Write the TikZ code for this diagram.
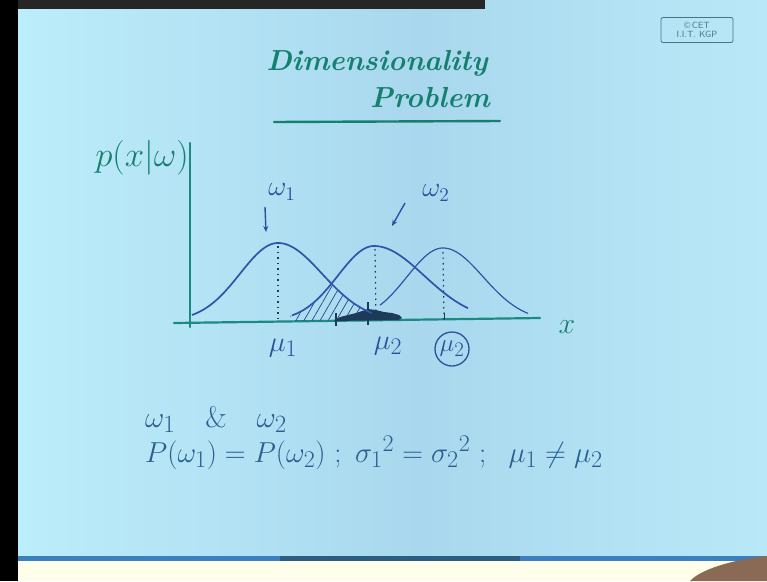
\documentclass[tikz,border=0pt]{standalone}
\usepackage{graphicx}
\usetikzlibrary{patterns.meta,arrows.meta}
\definecolor{bgA}{HTML}{BCEDFA}
\definecolor{bgB}{HTML}{A9D8EE}
\definecolor{bgC}{HTML}{B9E9F8}
\definecolor{ink}{HTML}{16806F}
\definecolor{axisc}{HTML}{1A8A82}
\definecolor{curvec}{HTML}{2F55A8}
\definecolor{lblc}{HTML}{2C4F9C}
\definecolor{textc}{HTML}{2A5F92}
\definecolor{blobc}{HTML}{1C3B58}
\definecolor{cetc}{HTML}{4A7684}
\definecolor{lineA}{HTML}{3A7FC0}
\definecolor{lineB}{HTML}{2C5C80}
\definecolor{handc}{HTML}{8A6A55}
\newcommand{\myScaleTxt}[2]{\scalebox{#1}{#2}}
\tikzset{
  titletext/.style={text=ink,font=\fontsize{29}{34}\selectfont\bfseries\itshape,inner sep=0pt,anchor=base},
  axisline/.style={draw=axisc,line width=2.2pt,line cap=round},
  curveA/.style={draw=curvec,line width=1.7pt},
  curveB/.style={draw=curvec,line width=1.2pt},
  dotline/.style={draw=blobc,line width=1.2pt,dash pattern=on 1.5pt off 4pt},
  lbl/.style={text=lblc,inner sep=0pt},
  arr/.style={draw=lblc,line width=1.4pt,-{Stealth[length=6pt,width=5pt]}},
  eqtext/.style={text=textc,inner sep=0pt,font=\fontsize{24.88}{30}\selectfont}
}
\begin{document}
\begin{tikzpicture}[x=1pt,y=-1pt]
\useasboundingbox (0,0) rectangle (767,581);
% background
\shade[left color=bgA,right color=bgB] (18,0) rectangle (420,560);
\shade[left color=bgB,right color=bgC] (420,0) rectangle (767,560);
\fill[white!92!yellow] (18,560) rectangle (767,581);
\fill[black] (0,0) rectangle (18,581);
\fill[black!85] (18,0) rectangle (485,9);
\fill[lineA] (18,556) rectangle (767,561);
\fill[lineB] (280,556) rectangle (520,561);
\fill[handc] (690,581) .. controls (700,570) and (730,560) .. (767,556) -- (767,581) -- cycle;
% CET box
\node[draw=cetc,line width=0.8pt,rounded corners=2pt,minimum width=72pt,minimum height=25pt,
      text=cetc,font=\sffamily\fontsize{9}{9.5}\selectfont,align=center,inner sep=1pt] (cet) at (697,30)
      {\textcopyright\,CET\\I.I.T. KGP};
% title
\node[titletext] (t1) at (377,70) {Dimensionality};
\node[titletext] (t2) at (430,107) {Problem};
\coordinate (ulA) at (274,122);
\coordinate (ulB) at (500,121);
\draw[draw=ink,line width=2.4pt,line cap=round] (ulA) -- (ulB);
% axes
\coordinate (yTop) at (190,143);
\coordinate (yBot) at (190,327);
\coordinate (xL) at (174,323);
\coordinate (xR) at (540,318);
\draw[axisline] (yTop) -- (yBot);
\draw[axisline] (xL) -- (xR);
\node[text=ink,inner sep=0pt,font=\fontsize{24.88}{30}\selectfont] (ylab) at (142,158) {\myScaleTxt{1.4}{$p(x|\omega)$}};
\node[text=ink,inner sep=0pt,font=\fontsize{24.88}{30}\selectfont] (xlab) at (567,327) {\myScaleTxt{1.2}{$x$}};
% hatched overlap
\path[pattern={Lines[angle=60,distance=7pt,line width=0.7pt]},pattern color=curvec!80!black]
  plot[domain=290:332,samples=30] (\x,{321-75*exp(-0.5*((\x-374)/36)^2)})
  -- plot[domain=332:366,samples=30] (\x,{321-78*exp(-0.5*((\x-278)/44)^2)})
  -- (366,320) -- (290,321) -- cycle;
% dark blob
\fill[blobc] (334,321) -- (340,317) -- (348,315) -- (356,313) -- (362,311) -- (368,309) -- (376,310)
  -- (384,312) -- (392,313) -- (399,315) -- (402,318) -- (398,320) -- cycle;
\coordinate (bk1) at (368,302);
\coordinate (bk2) at (368,325);
\draw[blobc,line width=1.5pt] (bk1) -- (bk2);
\coordinate (bk3) at (336,313);
\coordinate (bk4) at (336,326);
\draw[blobc,line width=1.5pt] (bk3) -- (bk4);
% curves
\draw[curveA] plot[domain=192:278,samples=50] (\x,{321-78*exp(-0.5*((\x-278)/38)^2)})
  -- plot[domain=278:372,samples=50] (\x,{321-78*exp(-0.5*((\x-278)/44)^2)});
\draw[curveA] plot[domain=292:374,samples=50] (\x,{321-75*exp(-0.5*((\x-374)/36)^2)})
  -- plot[domain=374:468,samples=50] (\x,{321-75*exp(-0.5*((\x-374)/50)^2)});
\draw[curveB] plot[domain=380:443,samples=50] (\x,{321-73*exp(-0.5*((\x-443)/36)^2)})
  -- plot[domain=443:528,samples=50] (\x,{321-73*exp(-0.5*((\x-443)/40)^2)});
% dotted mean lines
\coordinate (m1t) at (278,246); \coordinate (m1b) at (278,320);
\coordinate (m2t) at (375,249); \coordinate (m2b) at (376,320);
\coordinate (m3t) at (443,252); \coordinate (m3b) at (444,319);
\draw[dotline] (m1t) -- (m1b);
\draw[dotline] (m2t) -- (m2b);
\draw[dotline] (m3t) -- (m3b);
\coordinate (tk1) at (444,313); \coordinate (tk2) at (444,320);
\draw[blobc,line width=1pt] (tk1) -- (tk2);
% class labels and arrows
\node[lbl,font=\fontsize{20.74}{23}\selectfont] (w1) at (282,192) {\myScaleTxt{1.35}{$\omega_{1}$}};
\node[lbl,font=\fontsize{20.74}{23}\selectfont] (w2) at (436,193) {\myScaleTxt{1.35}{$\omega_2$}};
\coordinate (a1s) at (265,207);
\coordinate (a1e) at (266,232);
\coordinate (a2s) at (405,203);
\coordinate (a2e) at (392,226);
\draw[arr] (a1s) -- (a1e);
\draw[arr] (a2s) -- (a2e);
% mean labels
\node[lbl,font=\fontsize{24.88}{30}\selectfont] (mu1) at (283,348) {\myScaleTxt{1.15}{$\mu_1$}};
\node[lbl,font=\fontsize{24.88}{30}\selectfont] (mu2) at (388,346) {\myScaleTxt{1.15}{$\mu_2$}};
\node[lbl,draw=lblc,circle,line width=1.3pt,minimum size=34pt,inner sep=0pt,font=\fontsize{24.88}{25}\selectfont] (mu3) at (452,349) {$\mu_2$};
% equations
\node[eqtext,anchor=base west] (eq1) at (145,427) {\myScaleTxt{1.2}{$\omega_1\quad\&\quad\omega_2$}};
\node[eqtext,anchor=base west] (eq2) at (145,462) {\myScaleTxt{1.16}{$P(\omega_1) = P(\omega_2)\ ;\ \sigma_1{}^2 = \sigma_2{}^2\ ;\ \ \mu_1 \neq \mu_2$}};
\end{tikzpicture}
\end{document}
